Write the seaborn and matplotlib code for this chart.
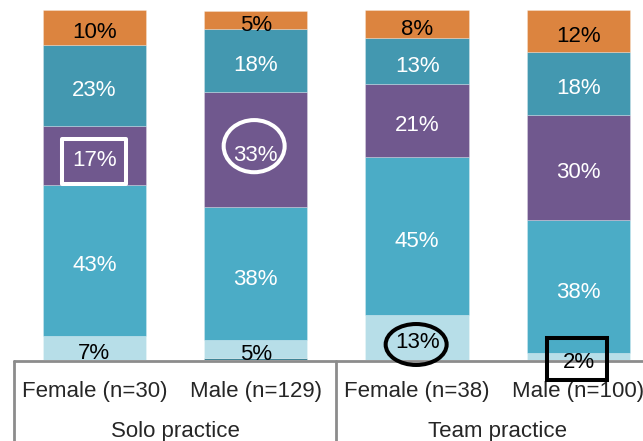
import matplotlib
matplotlib.use("Agg")
import matplotlib.pyplot as plt
import seaborn as sns
import pandas as pd
from matplotlib.patches import Rectangle, Ellipse

# Respondent groups (bars) and practice settings (bar pairs)
bars = ["Female (n=30)", "Male (n=129)", "Female (n=38)", "Male (n=100)"]
settings = ["Solo practice", "Team practice"]

# Stacked shares in percent, bottom to top
share_none = [0, 0.6, 0, 0]
share_a = [7, 5, 13, 2]
share_b = [43, 38, 45, 38]
share_c = [17, 33, 21, 30]
share_d = [23, 18, 13, 18]
share_e = [10, 5, 8, 12]

layers = [share_none, share_a, share_b, share_c, share_d, share_e]
colors = ["#3f8496", "#b7dee8", "#4bacc6", "#70588e", "#4398b0", "#dc843f"]
text_colors = [None, "black", "white", "white", "white", "black"]

sns.set_theme(style="white")
plt.rcParams["font.family"] = ["Liberation Sans", "DejaVu Sans"]

W, H = 643, 441
fig = plt.figure(figsize=(W / 100, H / 100), dpi=100)
left_px, bottom_px, top_px = 13.75, 81, 10
ax_h = H - bottom_px - top_px
ax = fig.add_axes([left_px / W, bottom_px / H, (W - left_px) / W, ax_h / H])

bottom = [0.0] * len(bars)
for vals, col, tcol in zip(layers, colors, text_colors):
    df = pd.DataFrame({"group": bars, "share": vals})
    sns.barplot(data=df, x="group", y="share", order=bars, bottom=list(bottom),
                color=col, saturation=1, width=0.64, ax=ax,
                edgecolor=(1, 1, 1, 0.25), linewidth=0.7, errorbar=None)
    if tcol is not None:
        for i, v in enumerate(vals):
            if v > 0:
                ax.annotate(f"{v}%", xy=(i, bottom[i] + v / 2), xytext=(0, -11),
                            textcoords="offset pixels", ha="center", va="baseline",
                            color=tcol, fontsize=16, zorder=5, annotation_clip=False)
    bottom = [b + v for b, v in zip(bottom, vals)]

ax.set_xlim(-0.5, 3.40)
ax.set_ylim(0, 100)
ax.set_xticks([])
ax.set_yticks([])
ax.set_xlabel("")
ax.set_ylabel("")
for sp in ax.spines.values():
    sp.set_visible(False)

# Category axis with group separators
trans = ax.get_xaxis_transform()
grey = "#8c8c8c"
ax.plot([-0.5, 3.5], [-0.003, -0.003], transform=trans, color=grey, lw=2, clip_on=False, zorder=1)
for xs in [-0.5, 1.5, 3.5]:
    ax.plot([xs, xs], [-0.003, -0.35], transform=trans, color=grey, lw=2, clip_on=False, zorder=1)

for i, name in enumerate(bars):
    ax.text(i, -36.7 / ax_h, name, transform=trans, ha="center", va="baseline", fontsize=16)
for j, name in enumerate(settings):
    ax.text(2 * j + 0.5, -77.3 / ax_h, name, transform=trans, ha="center", va="baseline", fontsize=16)

# Highlight marks around selected shares
lw = 2.9
ax.add_patch(Rectangle((-0.198, 50.3), 0.396, 12.8, fill=False, edgecolor="white",
                       lw=lw, joinstyle="round", zorder=6, clip_on=False))
ax.add_patch(Ellipse((0.99, 61.1), 0.378, 14.9, fill=False, edgecolor="white",
                     lw=lw, zorder=6, clip_on=False))
ax.add_patch(Ellipse((1.994, 4.43), 0.378, 11.7, fill=False, edgecolor="black",
                     lw=lw, zorder=6, clip_on=False))
ax.add_patch(Rectangle((2.804, -5.71), 0.372, 12.0, fill=False, edgecolor="black",
                       lw=lw, zorder=6, clip_on=False))

fig.savefig("out.png", dpi=100)
